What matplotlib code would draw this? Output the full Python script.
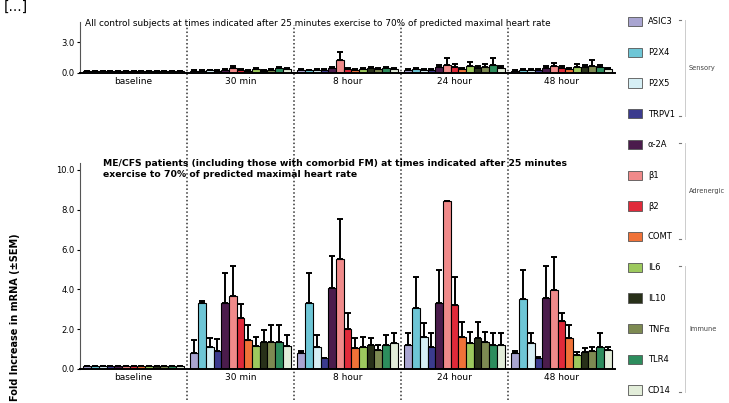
import numpy as np
import matplotlib.pyplot as plt
from matplotlib.patches import Patch

groups = ['baseline', '30 min', '8 hour', '24 hour', '48 hour']
genes = ['ASIC3', 'P2X4', 'P2X5', 'TRPV1', 'α-2A', 'β1', 'β2', 'COMT',
         'IL6', 'IL10', 'TNFα', 'TLR4', 'CD14']
gene_colors = ['#a9a5d1', '#6ec6d6', '#d6eff5', '#3b3b8e', '#4b1c4c', '#f08a8a',
               '#e02a3a', '#f07238', '#9dc95e', '#283019', '#7d8a52', '#2d8d5d',
               '#e2edd9']
categories = [('Sensory', 0, 3), ('Adrenergic', 4, 7), ('Immune', 8, 12)]

# control subjects, one row per time point
ctrl_mean = [
    [0.15, 0.15, 0.15, 0.15, 0.15, 0.15, 0.15, 0.15, 0.15, 0.15, 0.15, 0.15, 0.15],
    [0.2, 0.2, 0.25, 0.2, 0.3, 0.45, 0.3, 0.2, 0.35, 0.2, 0.3, 0.45, 0.4],
    [0.3, 0.25, 0.3, 0.3, 0.45, 1.3, 0.4, 0.3, 0.35, 0.45, 0.4, 0.45, 0.4],
    [0.3, 0.35, 0.3, 0.3, 0.6, 0.8, 0.6, 0.4, 0.7, 0.5, 0.6, 0.8, 0.5],
    [0.2, 0.3, 0.3, 0.3, 0.5, 0.7, 0.5, 0.4, 0.6, 0.6, 0.7, 0.6, 0.4],
]
ctrl_sem = [
    [0, 0, 0, 0, 0, 0, 0, 0, 0, 0, 0, 0, 0],
    [0.05, 0.05, 0.05, 0.05, 0.1, 0.2, 0.1, 0.05, 0.15, 0.05, 0.1, 0.1, 0.1],
    [0.05, 0.05, 0.1, 0.05, 0.1, 0.8, 0.1, 0.05, 0.1, 0.1, 0.1, 0.15, 0.1],
    [0.05, 0.1, 0.05, 0.05, 0.2, 0.7, 0.3, 0.1, 0.4, 0.2, 0.3, 0.7, 0.2],
    [0.05, 0.1, 0.05, 0.05, 0.15, 0.3, 0.2, 0.1, 0.3, 0.2, 0.6, 0.2, 0.1],
]

# ME/CFS patients, one row per time point
pat_mean = [
    [0.15, 0.15, 0.15, 0.15, 0.15, 0.15, 0.15, 0.15, 0.15, 0.15, 0.15, 0.15, 0.15],
    [0.8, 3.3, 1.1, 0.9, 3.3, 3.65, 2.55, 1.45, 1.15, 1.35, 1.35, 1.35, 1.15],
    [0.8, 3.3, 1.1, 0.55, 4.05, 5.55, 2.0, 1.05, 1.1, 1.2, 0.95, 1.2, 1.3],
    [1.2, 3.05, 1.6, 1.1, 3.3, 8.45, 3.2, 1.6, 1.3, 1.55, 1.35, 1.2, 1.2],
    [0.8, 3.5, 1.3, 0.55, 3.55, 3.95, 2.4, 1.55, 0.7, 0.85, 0.9, 1.1, 0.95],
]
pat_sem = [
    [0, 0, 0, 0, 0, 0, 0, 0, 0, 0, 0, 0, 0],
    [0.65, 0.1, 0.45, 0.6, 1.5, 1.55, 0.7, 0.75, 0.45, 0.6, 0.85, 0.85, 0.55],
    [0.1, 1.5, 0.6, 0, 1.65, 2.0, 0.8, 0.5, 0.5, 0.35, 0.25, 0.5, 0.5],
    [0.6, 1.55, 0.7, 0.7, 1.65, 0, 1.4, 0.75, 0.55, 0.8, 0.5, 0.6, 0.6],
    [0.1, 1.45, 0.5, 0.05, 1.65, 1.7, 0.4, 0.65, 0.15, 0.2, 0.2, 0.7, 0.15],
]

W, H = 729, 403
fig = plt.figure(figsize=(W / 100, H / 100), dpi=100)


def px_rect(left, top, right, bottom):
    return [left / W, 1 - bottom / H, (right - left) / W, (bottom - top) / H]


ax_top = fig.add_axes(px_rect(80, 22, 615, 73))
ax_bot = fig.add_axes(px_rect(80, 163, 615, 369))

bw = 0.072
x = np.arange(len(groups))


def draw_panel(ax, means, sems):
    means = np.array(means)
    sems = np.array(sems)
    for j, gene in enumerate(genes):
        xs = x + (j - 6) * bw
        err = np.vstack([np.zeros(len(groups)), sems[:, j]])
        ax.bar(xs, means[:, j], width=bw, color=gene_colors[j], edgecolor='black',
               linewidth=0.8, label=gene, zorder=2)
        ax.errorbar(xs, means[:, j], yerr=err, fmt='none', ecolor='black',
                    elinewidth=1.4, capsize=2.2, capthick=1.4, zorder=3)
    ax.set_xlim(-0.5, len(groups) - 0.5)
    ax.set_xticks(x)
    ax.set_xticklabels(groups, fontsize=6.5)
    ax.tick_params(axis='x', length=0, pad=3)
    ax.tick_params(axis='y', labelsize=6, length=2, width=0.8, pad=2)
    for s in ['top', 'right']:
        ax.spines[s].set_visible(False)
    ax.spines['left'].set_linewidth(0.8)
    ax.spines['left'].set_color('#555555')
    ax.spines['bottom'].set_linewidth(1.4)


draw_panel(ax_top, ctrl_mean, ctrl_sem)
ax_top.set_ylim(0, 5)
ax_top.set_yticks([0, 3])
ax_top.set_yticklabels(['0.0', '3.0'])

draw_panel(ax_bot, pat_mean, pat_sem)
ax_bot.set_ylim(0, 10.35)
ax_bot.set_yticks([0, 2, 4, 6, 8, 10])
ax_bot.set_yticklabels(['0.0', '2.0', '4.0', '6.0', '8.0', '10.0'])

# dotted dividers between time points, running through both panels
for b in x[:-1] + 0.5:
    ax_top.axvline(b, ymin=-1.31, ymax=0.94, color='#333333', lw=1.1,
                   ls=(0, (1, 1.5)), clip_on=False, zorder=1)
    ax_bot.axvline(b, ymin=-0.15, ymax=1.11, color='#333333', lw=1.1,
                   ls=(0, (1, 1.5)), clip_on=False, zorder=1)

fig.text(85 / W, 1 - 23 / H,
         'All control subjects at times indicated after 25 minutes exercise to '
         '70% of predicted maximal heart rate',
         fontsize=6.4, va='center', ha='left')
fig.text(103 / W, 1 - 169 / H,
         'ME/CFS patients (including those with comorbid FM) at times indicated after 25 minutes\n'
         'exercise to 70% of predicted maximal heart rate',
         fontsize=6.7, fontweight='bold', va='center', ha='left', linespacing=1.2)
fig.text(15 / W, 1 - 401 / H, 'Fold Increase in mRNA (±SEM)', rotation=90,
         fontsize=7, fontweight='bold', ha='center', va='bottom')
fig.text(4 / W, 1.0, '[...]', fontsize=10, ha='left', va='top')

handles = [Patch(facecolor=c, edgecolor='#555555', linewidth=0.6) for c in gene_colors]
fig.legend(handles, genes, loc='upper left', bbox_to_anchor=(628 / W, 1 - 17 / H),
           frameon=False, fontsize=6, handlelength=1.7, handleheight=1.35,
           handletextpad=0.7, labelspacing=2.55, borderaxespad=0, borderpad=0)

# category brackets next to the legend
row_y = [22 + i * 30.7 for i in range(len(genes))]
for name, i0, i1 in categories:
    y0, y1 = 1 - (row_y[i0] - 2) / H, 1 - (row_y[i1] + 2) / H
    fig.add_artist(plt.Line2D([685 / W, 685 / W], [y0, y1], color='#cccccc', lw=0.7))
    for yy in (y0, y1):
        fig.add_artist(plt.Line2D([679 / W, 681 / W], [yy, yy], color='#777777', lw=0.8))
    fig.text(689 / W, (y0 + y1) / 2, name, fontsize=4.8, va='center', ha='left',
             color='#444444')

fig.savefig('out.png', dpi=100)
